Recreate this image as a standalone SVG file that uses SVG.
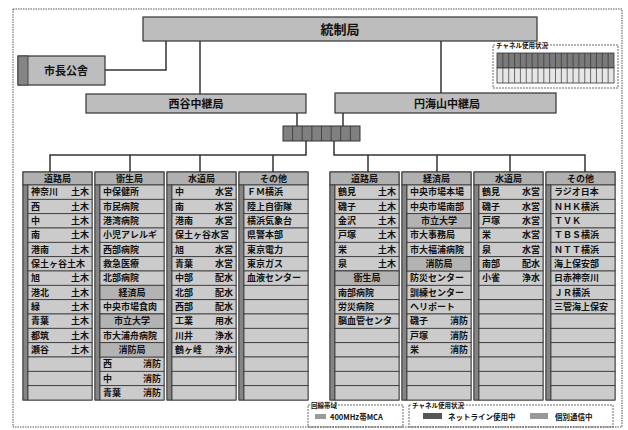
<svg xmlns="http://www.w3.org/2000/svg" xmlns:xlink="http://www.w3.org/1999/xlink" width="628" height="430" viewBox="0 0 628 430">
<style>
text{font-family:"Noto Sans CJK JP","Noto Sans",sans-serif;font-weight:bold;fill:#111}
.box{fill:#bdbdbd;stroke:#333;stroke-width:1.2}
.strip{fill:#858585;stroke:#333;stroke-width:0.8}
.hdr{fill:#b0b0b0;stroke:#333;stroke-width:1}
.cell{fill:#cbcbcb;stroke:#333;stroke-width:0.8}
.sub{fill:#b3b3b3;stroke:#333;stroke-width:0.8}
.colframe{fill:#c0c0c0;stroke:#333;stroke-width:1}
.t{font-size:9px}
.h{font-size:9px;text-anchor:middle}
.r{font-size:9px;text-anchor:end}
.c{font-size:9px;text-anchor:middle}
.conn{fill:none;stroke:#333;stroke-width:1.5}
.dash{fill:none;stroke:#444;stroke-width:0.8;stroke-dasharray:2 1}
.lbl{font-size:6.5px}
.lg{font-size:7.5px}
</style>
<defs>
<g id="colbg">
<rect x="0" y="172" width="69" height="228" class="colframe"/>
<rect x="0" y="172" width="69" height="13" class="hdr"/>
<rect x="0" y="185" width="5" height="215" class="strip"/>
<rect x="5" y="185" width="64" height="14.33" class="cell"/>
<rect x="5" y="199.33" width="64" height="14.33" class="cell"/>
<rect x="5" y="213.67" width="64" height="14.33" class="cell"/>
<rect x="5" y="228" width="64" height="14.33" class="cell"/>
<rect x="5" y="242.33" width="64" height="14.33" class="cell"/>
<rect x="5" y="256.67" width="64" height="14.33" class="cell"/>
<rect x="5" y="271" width="64" height="14.33" class="cell"/>
<rect x="5" y="285.33" width="64" height="14.33" class="cell"/>
<rect x="5" y="299.67" width="64" height="14.33" class="cell"/>
<rect x="5" y="314" width="64" height="14.33" class="cell"/>
<rect x="5" y="328.33" width="64" height="14.33" class="cell"/>
<rect x="5" y="342.67" width="64" height="14.33" class="cell"/>
<rect x="5" y="357" width="64" height="14.33" class="cell"/>
<rect x="5" y="371.33" width="64" height="14.33" class="cell"/>
<rect x="5" y="385.67" width="64" height="14.33" class="cell"/>
</g>
</defs>
<rect x="0" y="0" width="628" height="430" fill="#ffffff"/>
<rect x="13" y="9" width="609" height="418" fill="none" stroke="#555" stroke-width="1" stroke-dasharray="1.5 1"/>

<g id="connectors">
<polyline class="conn" points="166,41 166,70 105,70"/>
<polyline class="conn" points="200,41 200,94"/>
<polyline class="conn" points="441,41 441,93"/>
<polyline class="conn" points="297,113 297,126"/>
<polyline class="conn" points="343,113 343,126"/>
<polyline class="conn" points="306,141 306,155 50,155 50,172"/>
<polyline class="conn" points="130,155 130,172"/>
<polyline class="conn" points="200,155 200,172"/>
<polyline class="conn" points="273,155 273,172"/>
<polyline class="conn" points="334,141 334,155 585,155 585,172"/>
<polyline class="conn" points="368,155 368,172"/>
<polyline class="conn" points="437,155 437,172"/>
<polyline class="conn" points="510,155 510,172"/>
</g>

<g id="toseikyoku">
<rect x="143" y="17" width="394" height="24" class="box"/>
<text x="340" y="34" font-size="13" text-anchor="middle">統制局</text>
</g>
<g id="shichokosha">
<rect x="18" y="56" width="87" height="29" class="box"/>
<rect x="18" y="56" width="10" height="29" class="strip"/>
<text x="66" y="75" font-size="11" text-anchor="middle">市長公舎</text>
</g>
<g id="nishiya">
<rect x="86" y="94" width="220" height="19" class="box"/>
<text x="196" y="108" font-size="11" text-anchor="middle">西谷中継局</text>
</g>
<g id="enkaizan">
<rect x="335" y="93" width="221" height="20" class="box"/>
<text x="447" y="108" font-size="11" text-anchor="middle">円海山中継局</text>
</g>
<g id="channel-block">
<rect x="283" y="126" width="77" height="15" fill="#808080" stroke="#333" stroke-width="1"/>
<path d="M292.6,126v15M302.2,126v15M311.9,126v15M321.5,126v15M331.1,126v15M340.7,126v15M350.4,126v15" stroke="#333" stroke-width="0.8"/>
</g>
<g id="channel-status">
<rect x="493" y="45" width="125" height="43" class="dash"/>
<rect x="495" y="42" width="48" height="7" fill="#fff"/>
<text x="496" y="48" class="lbl">チャネル使用状況</text>
<rect x="497" y="53" width="117" height="15" fill="#7a7a7a" stroke="#333" stroke-width="0.8"/>
<rect x="497" y="68" width="117" height="15" fill="#e6e6e6" stroke="#333" stroke-width="0.8"/>
<path d="M502.85,53v30M508.7,53v30M514.55,53v30M520.4,53v30M526.25,53v30M532.1,53v30M537.95,53v30M543.8,53v30M549.65,53v30M555.5,53v30M561.35,53v30M567.2,53v30M573.05,53v30M578.9,53v30M584.75,53v30M590.6,53v30M596.45,53v30M602.3,53v30M608.15,53v30" stroke="#333" stroke-width="0.7"/>
</g>

<g id="col1" transform="translate(23,0)">
<use xlink:href="#colbg"/>
<text x="34.5" y="182" class="h">道路局</text>
<text x="8" y="195.3" class="t">神奈川</text><text x="66" y="195.3" class="r">土木</text>
<text x="8" y="209.6" class="t">西</text><text x="66" y="209.6" class="r">土木</text>
<text x="8" y="224" class="t">中</text><text x="66" y="224" class="r">土木</text>
<text x="8" y="238.3" class="t">南</text><text x="66" y="238.3" class="r">土木</text>
<text x="8" y="252.6" class="t">港南</text><text x="66" y="252.6" class="r">土木</text>
<text x="8" y="267" class="t">保土ヶ谷土木</text>
<text x="8" y="281.3" class="t">旭</text><text x="66" y="281.3" class="r">土木</text>
<text x="8" y="295.6" class="t">港北</text><text x="66" y="295.6" class="r">土木</text>
<text x="8" y="310" class="t">緑</text><text x="66" y="310" class="r">土木</text>
<text x="8" y="324.3" class="t">青葉</text><text x="66" y="324.3" class="r">土木</text>
<text x="8" y="338.6" class="t">都筑</text><text x="66" y="338.6" class="r">土木</text>
<text x="8" y="353" class="t">瀬谷</text><text x="66" y="353" class="r">土木</text>
</g>

<g id="col2" transform="translate(95,0)">
<use xlink:href="#colbg"/>
<text x="34.5" y="182" class="h">衛生局</text>
<text x="8" y="195.3" class="t">中保健所</text>
<text x="8" y="209.6" class="t">市民病院</text>
<text x="8" y="224" class="t">港湾病院</text>
<text x="8" y="238.3" class="t">小児アレルギ</text>
<text x="8" y="252.6" class="t">西部病院</text>
<text x="8" y="267" class="t">救急医療</text>
<text x="8" y="281.3" class="t">北部病院</text>
<rect x="5" y="285.33" width="64" height="14.33" class="sub"/><text x="37" y="295.6" class="c">経済局</text>
<text x="8" y="310" class="t">中央市場食肉</text>
<rect x="5" y="314" width="64" height="14.33" class="sub"/><text x="37" y="324.3" class="c">市立大学</text>
<text x="8" y="338.6" class="t">市大浦舟病院</text>
<rect x="5" y="342.67" width="64" height="14.33" class="sub"/><text x="37" y="353" class="c">消防局</text>
<text x="8" y="367.3" class="t">西</text><text x="66" y="367.3" class="r">消防</text>
<text x="8" y="381.6" class="t">中</text><text x="66" y="381.6" class="r">消防</text>
<text x="8" y="396" class="t">青葉</text><text x="66" y="396" class="r">消防</text>
</g>

<g id="col3" transform="translate(167,0)">
<use xlink:href="#colbg"/>
<text x="34.5" y="182" class="h">水道局</text>
<text x="8" y="195.3" class="t">中</text><text x="66" y="195.3" class="r">水営</text>
<text x="8" y="209.6" class="t">南</text><text x="66" y="209.6" class="r">水営</text>
<text x="8" y="224" class="t">港南</text><text x="66" y="224" class="r">水営</text>
<text x="8" y="238.3" class="t">保土ヶ谷水営</text>
<text x="8" y="252.6" class="t">旭</text><text x="66" y="252.6" class="r">水営</text>
<text x="8" y="267" class="t">青葉</text><text x="66" y="267" class="r">水営</text>
<text x="8" y="281.3" class="t">中部</text><text x="66" y="281.3" class="r">配水</text>
<text x="8" y="295.6" class="t">北部</text><text x="66" y="295.6" class="r">配水</text>
<text x="8" y="310" class="t">西部</text><text x="66" y="310" class="r">配水</text>
<text x="8" y="324.3" class="t">工業</text><text x="66" y="324.3" class="r">用水</text>
<text x="8" y="338.6" class="t">川井</text><text x="66" y="338.6" class="r">浄水</text>
<text x="8" y="353" class="t">鶴ヶ峰</text><text x="66" y="353" class="r">浄水</text>
</g>

<g id="col4" transform="translate(239,0)">
<use xlink:href="#colbg"/>
<text x="34.5" y="182" class="h">その他</text>
<text x="8" y="195.3" class="t">ＦＭ横浜</text>
<text x="8" y="209.6" class="t">陸上自衛隊</text>
<text x="8" y="224" class="t">横浜気象台</text>
<text x="8" y="238.3" class="t">県警本部</text>
<text x="8" y="252.6" class="t">東京電力</text>
<text x="8" y="267" class="t">東京ガス</text>
<text x="8" y="281.3" class="t">血液センター</text>
</g>

<g id="col5" transform="translate(330,0)">
<use xlink:href="#colbg"/>
<text x="34.5" y="182" class="h">道路局</text>
<text x="8" y="195.3" class="t">鶴見</text><text x="66" y="195.3" class="r">土木</text>
<text x="8" y="209.6" class="t">磯子</text><text x="66" y="209.6" class="r">土木</text>
<text x="8" y="224" class="t">金沢</text><text x="66" y="224" class="r">土木</text>
<text x="8" y="238.3" class="t">戸塚</text><text x="66" y="238.3" class="r">土木</text>
<text x="8" y="252.6" class="t">栄</text><text x="66" y="252.6" class="r">土木</text>
<text x="8" y="267" class="t">泉</text><text x="66" y="267" class="r">土木</text>
<rect x="5" y="271" width="64" height="14.33" class="sub"/><text x="37" y="281.3" class="c">衛生局</text>
<text x="8" y="295.6" class="t">南部病院</text>
<text x="8" y="310" class="t">労災病院</text>
<text x="8" y="324.3" class="t">脳血管センタ</text>
</g>

<g id="col6" transform="translate(402,0)">
<use xlink:href="#colbg"/>
<text x="34.5" y="182" class="h">経済局</text>
<text x="8" y="195.3" class="t">中央市場本場</text>
<text x="8" y="209.6" class="t">中央市場南部</text>
<rect x="5" y="213.67" width="64" height="14.33" class="sub"/><text x="37" y="224" class="c">市立大学</text>
<text x="8" y="238.3" class="t">市大事務局</text>
<text x="8" y="252.6" class="t">市大福浦病院</text>
<rect x="5" y="256.67" width="64" height="14.33" class="sub"/><text x="37" y="267" class="c">消防局</text>
<text x="8" y="281.3" class="t">防災センター</text>
<text x="8" y="295.6" class="t">訓練センター</text>
<text x="8" y="310" class="t">ヘリポート</text>
<text x="8" y="324.3" class="t">磯子</text><text x="66" y="324.3" class="r">消防</text>
<text x="8" y="338.6" class="t">戸塚</text><text x="66" y="338.6" class="r">消防</text>
<text x="8" y="353" class="t">栄</text><text x="66" y="353" class="r">消防</text>
</g>

<g id="col7" transform="translate(474,0)">
<use xlink:href="#colbg"/>
<text x="34.5" y="182" class="h">水道局</text>
<text x="8" y="195.3" class="t">鶴見</text><text x="66" y="195.3" class="r">水営</text>
<text x="8" y="209.6" class="t">磯子</text><text x="66" y="209.6" class="r">水営</text>
<text x="8" y="224" class="t">戸塚</text><text x="66" y="224" class="r">水営</text>
<text x="8" y="238.3" class="t">栄</text><text x="66" y="238.3" class="r">水営</text>
<text x="8" y="252.6" class="t">泉</text><text x="66" y="252.6" class="r">水営</text>
<text x="8" y="267" class="t">南部</text><text x="66" y="267" class="r">配水</text>
<text x="8" y="281.3" class="t">小雀</text><text x="66" y="281.3" class="r">浄水</text>
</g>

<g id="col8" transform="translate(546,0)">
<use xlink:href="#colbg"/>
<text x="34.5" y="182" class="h">その他</text>
<text x="8" y="195.3" class="t">ラジオ日本</text>
<text x="8" y="209.6" class="t">ＮＨＫ横浜</text>
<text x="8" y="224" class="t">ＴＶＫ</text>
<text x="8" y="238.3" class="t">ＴＢＳ横浜</text>
<text x="8" y="252.6" class="t">ＮＴＴ横浜</text>
<text x="8" y="267" class="t">海上保安部</text>
<text x="8" y="281.3" class="t">日赤神奈川</text>
<text x="8" y="295.6" class="t">ＪＲ横浜</text>
<text x="8" y="310" class="t">三管海上保安</text>
</g>

<g id="legend-band">
<rect x="308" y="405" width="95" height="22" class="dash"/>
<rect x="310" y="402" width="26" height="7" fill="#fff"/>
<text x="311" y="408" class="lbl">回線帯域</text>
<rect x="315" y="414" width="11" height="5" fill="#9a9a9a"/>
<text x="330" y="420" class="lg">400MHz帯MCA</text>
</g>
<g id="legend-channel">
<rect x="409" y="405" width="204" height="22" class="dash"/>
<rect x="411" y="402" width="48" height="7" fill="#fff"/>
<text x="412" y="408" class="lbl">チャネル使用状況</text>
<rect x="423" y="413" width="19" height="6" fill="#555"/>
<text x="448" y="420" class="lg">ネットライン使用中</text>
<rect x="530" y="413" width="18" height="6" fill="#999"/>
<text x="555" y="420" class="lg">個別通信中</text>
</g>
</svg>
